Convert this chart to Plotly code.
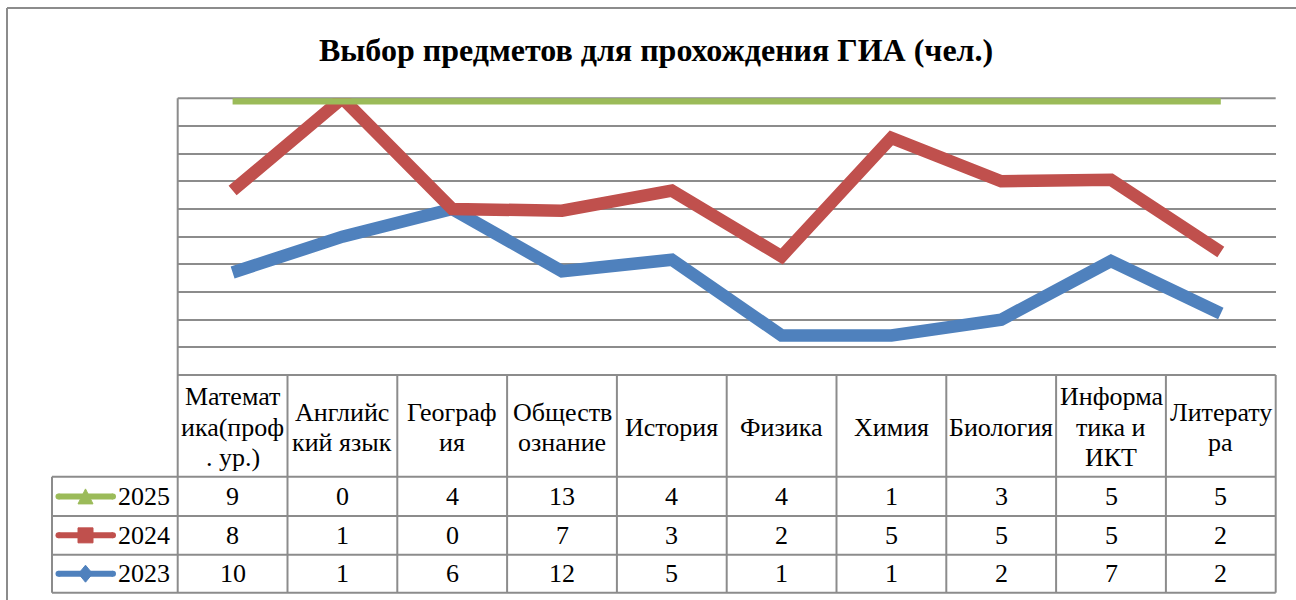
import plotly.graph_objects as go

# Data
subjects = ["Математика(проф. ур.)", "Английский язык", "География", "Обществознание",
            "История", "Физика", "Химия", "Биология", "Информатика и ИКТ", "Литература"]
header_labels = ["Математ<br>ика(проф<br>. ур.)", "Английс<br>кий язык", "Географ<br>ия",
                 "Обществ<br>ознание", "История", "Физика", "Химия", "Биология",
                 "Информа<br>тика и<br>ИКТ", "Литерату<br>ра"]
years = ["2025", "2024", "2023"]
v2025 = [9, 0, 4, 13, 4, 4, 1, 3, 5, 5]
v2024 = [8, 1, 0, 7, 3, 2, 5, 5, 5, 2]
v2023 = [10, 1, 6, 12, 5, 1, 1, 2, 7, 2]
title_text = "Выбор предметов для прохождения ГИА (чел.)"

colors = {"2025": "#9BBB59", "2024": "#C0504D", "2023": "#4F81BD"}
values = {"2025": v2025, "2024": v2024, "2023": v2023}

W, H = 1296, 600
def px(x):
    return x / W
def py(y):
    return 1 - y / H

# Layout geometry (pixels)
plot_left, plot_right = 177.7, 1275.7
plot_top, plot_bottom = 98.3, 375.0
header_bottom = 476.8
row_edges = [header_bottom, 516.0, 554.7, 592.7]
key_left = 52.0
col_w = (plot_right - plot_left) / len(subjects)
grid_col = "#8c8c8c"
serif = "Liberation Serif"
cell_font = dict(family=serif, size=26, color="black")
line_step = 30.5

fig = go.Figure()

# 100% stacked lines: bottom series first; strokes are clipped at the plot edge
for i, yr in enumerate(["2023", "2024", "2025"]):
    fig.add_trace(go.Scatter(
        x=subjects, y=values[yr], name=yr, mode="lines",
        stackgroup="share", groupnorm="percent" if i == 0 else None, fill="none",
        line=dict(color=colors[yr], width=12.5), showlegend=False,
    ))

fig.update_layout(
    width=W, height=H, margin=dict(l=0, r=0, t=0, b=0),
    paper_bgcolor="white", plot_bgcolor="white",
    xaxis=dict(type="category", range=[-0.5, len(subjects) - 0.5],
               domain=[px(plot_left), px(plot_right)],
               showticklabels=False, showgrid=False, zeroline=False, showline=False),
    yaxis=dict(range=[0, 100], dtick=10, domain=[py(plot_bottom), py(plot_top)],
               showticklabels=False, showgrid=True, gridcolor=grid_col, gridwidth=2,
               zeroline=False, showline=False),
)

shapes = []
def hline(y, x0, x1, color=grid_col, w=2, layer="above"):
    shapes.append(dict(type="line", xref="paper", yref="paper", layer=layer,
                       x0=px(x0), x1=px(x1), y0=py(y), y1=py(y),
                       line=dict(color=color, width=w)))
def vline(x, y0, y1, color=grid_col, w=2, layer="above"):
    shapes.append(dict(type="line", xref="paper", yref="paper", layer=layer,
                       x0=px(x), x1=px(x), y0=py(y0), y1=py(y1),
                       line=dict(color=color, width=w)))

# Outer chart border
hline(8, 7, W + 5)
vline(7, 8, H + 5)

# Plot area top edge and left axis line
hline(plot_top, plot_left, plot_right, layer="below")
vline(plot_left, plot_top, header_bottom, layer="below")

# Data table grid
hline(plot_bottom, plot_left, plot_right)
for y in row_edges:
    hline(y, key_left, plot_right)
vline(key_left, header_bottom, row_edges[-1])
for c in range(1, len(subjects) + 1):
    vline(plot_left + c * col_w, plot_bottom, row_edges[-1])
vline(plot_left, header_bottom, row_edges[-1])

annotations = []
def label(text, x, y, font, xanchor="center"):
    annotations.append(dict(text=text, x=px(x), y=py(y), xref="paper", yref="paper",
                            xanchor=xanchor, yanchor="middle", showarrow=False, font=font))

label("<b>" + title_text + "</b>", 656, 50, dict(family=serif, size=32, color="black"))

# Header cells, one annotation per wrapped line
head_mid = (plot_bottom + header_bottom) / 2 + 1.5
for c, lab in enumerate(header_labels):
    parts = lab.split("<br>")
    for k, part in enumerate(parts):
        yk = head_mid + (k - (len(parts) - 1) / 2) * line_step
        label(part, plot_left + (c + 0.5) * col_w, yk, cell_font)

# Value rows with legend keys
markers = {"2025": "triangle", "2024": "square", "2023": "diamond"}
for r, yr in enumerate(years):
    yc = (row_edges[r] + row_edges[r + 1]) / 2
    col = colors[yr]
    for c, v in enumerate(values[yr]):
        label(str(v), plot_left + (c + 0.5) * col_w, yc, cell_font)
    label(yr, 116, yc, cell_font, xanchor="left")
    # key line with rounded ends
    shapes.append(dict(type="line", xref="paper", yref="paper",
                       x0=px(58.5), x1=px(113), y0=py(yc), y1=py(yc),
                       line=dict(color=col, width=6)))
    for ex in (58.5, 113):
        shapes.append(dict(type="circle", xref="paper", yref="paper",
                           x0=px(ex - 3), x1=px(ex + 3), y0=py(yc - 3), y1=py(yc + 3),
                           fillcolor=col, line=dict(width=0)))
    cx = 85.5
    m = markers[yr]
    if m == "triangle":
        path = f"M {px(cx-7.5)},{py(yc+7.5)} L {px(cx+7.5)},{py(yc+7.5)} L {px(cx)},{py(yc-7.5)} Z"
    elif m == "square":
        path = (f"M {px(cx-7.5)},{py(yc-7.5)} L {px(cx+7.5)},{py(yc-7.5)} "
                f"L {px(cx+7.5)},{py(yc+7.5)} L {px(cx-7.5)},{py(yc+7.5)} Z")
    else:
        path = (f"M {px(cx)},{py(yc-8.5)} L {px(cx+7)},{py(yc)} "
                f"L {px(cx)},{py(yc+8.5)} L {px(cx-7)},{py(yc)} Z")
    shapes.append(dict(type="path", xref="paper", yref="paper", path=path,
                       fillcolor=col, line=dict(color=col, width=1)))

fig.update_layout(shapes=shapes, annotations=annotations)
fig.write_html("out.html")
